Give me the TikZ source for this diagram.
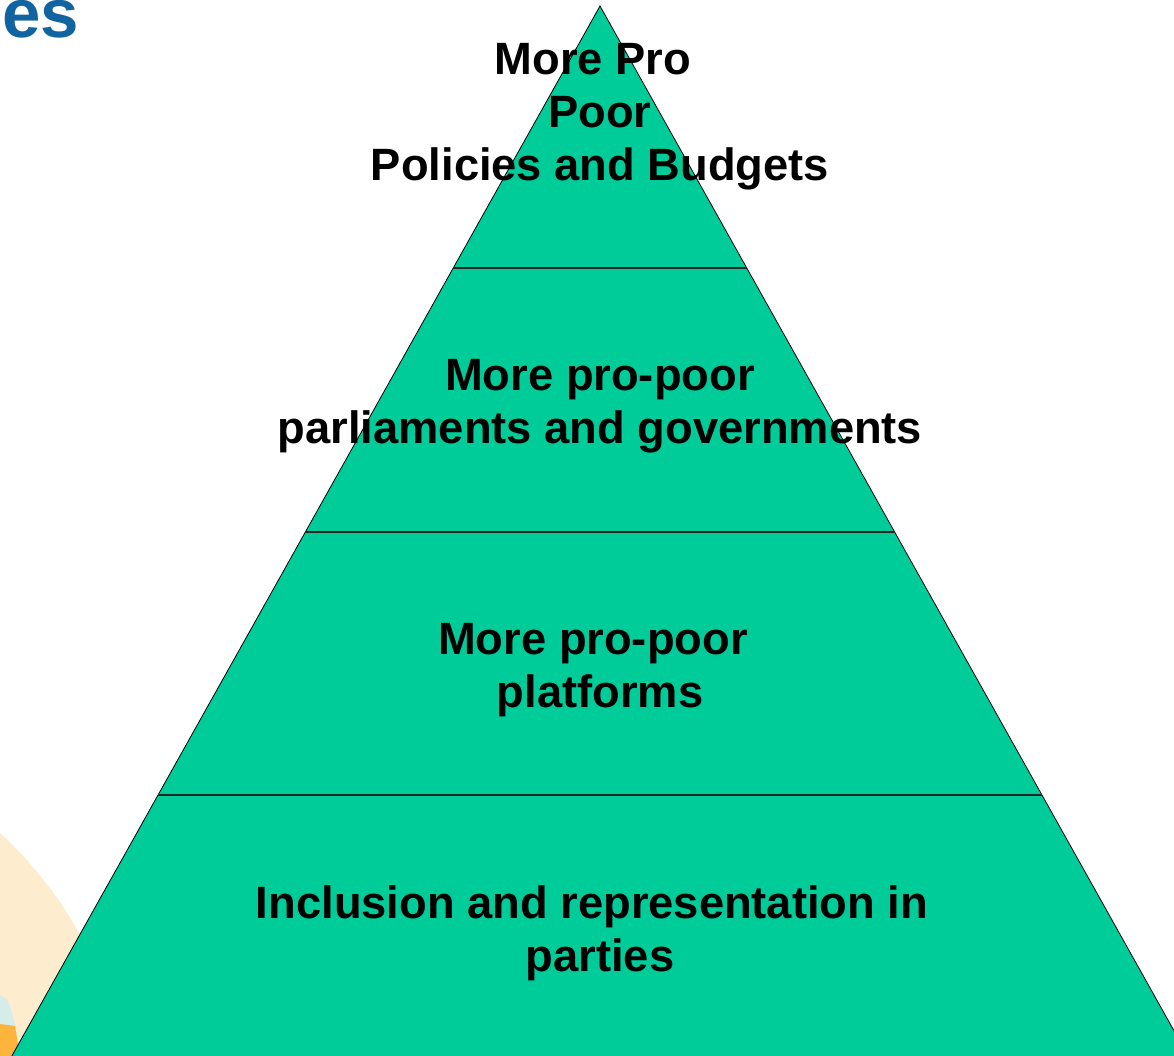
\documentclass[tikz,border=0pt]{standalone}
\usepackage{fontspec}
\setmainfont{Liberation Sans}
\definecolor{pyr}{RGB}{0,204,153}
\definecolor{beige}{RGB}{253,236,206}
\definecolor{titleblue}{RGB}{18,100,160}
\definecolor{orng}{RGB}{252,180,60}
\definecolor{lcyan}{RGB}{214,236,232}
\tikzset{
  lvl/.style={font=\fontsize{45.3}{53}\selectfont\bfseries, align=center, inner sep=0pt, anchor=base},
  divline/.style={draw=black!85, line width=1.3pt},
}
\begin{document}
\begin{tikzpicture}[x=1pt,y=-1pt]
\useasboundingbox (0,0) rectangle (1174,1056);
\clip (0,0) rectangle (1174,1056);
% background decoration
\fill[beige] (-280,1135) circle (412);
\fill[lcyan] (0,995) -- (8,1000) -- (16,1027) -- (0,1026) -- cycle;
\fill[orng] (0,1024) -- (15,1026) -- (20,1056) -- (0,1056) -- cycle;
% title fragment
\node[anchor=base east, inner sep=0pt, text=titleblue, font=\fontsize{69}{69}\selectfont\bfseries] (title) at (79,38) {es};
% pyramid
\coordinate (apex) at (600,6);
\coordinate (bl) at (-10,1095);
\coordinate (br) at (1210,1095);
\fill[pyr, draw=black, line width=0.8pt] (apex) -- (bl) -- (br) -- cycle;
\draw[divline] (453,268) -- (747,268);
\draw[divline] (305,532) -- (895,532);
\draw[divline] (158,795) -- (1042,795);
% labels
\node[lvl] (t1) at (593,75) {More Pro};
\node[lvl] (t2) at (600,128) {Poor};
\node[lvl] (t3) at (600,181) {Policies and Budgets};
\node[lvl] (m1) at (600,390) {More pro-poor};
\node[lvl] (m2) at (600,443) {parliaments and governments};
\node[lvl] (p1) at (593,654) {More pro-poor};
\node[lvl] (p2) at (600,707) {platforms};
\node[lvl] (b1) at (592,918) {Inclusion and representation in};
\node[lvl] (b2) at (600,971) {parties};
\end{tikzpicture}
\end{document}
